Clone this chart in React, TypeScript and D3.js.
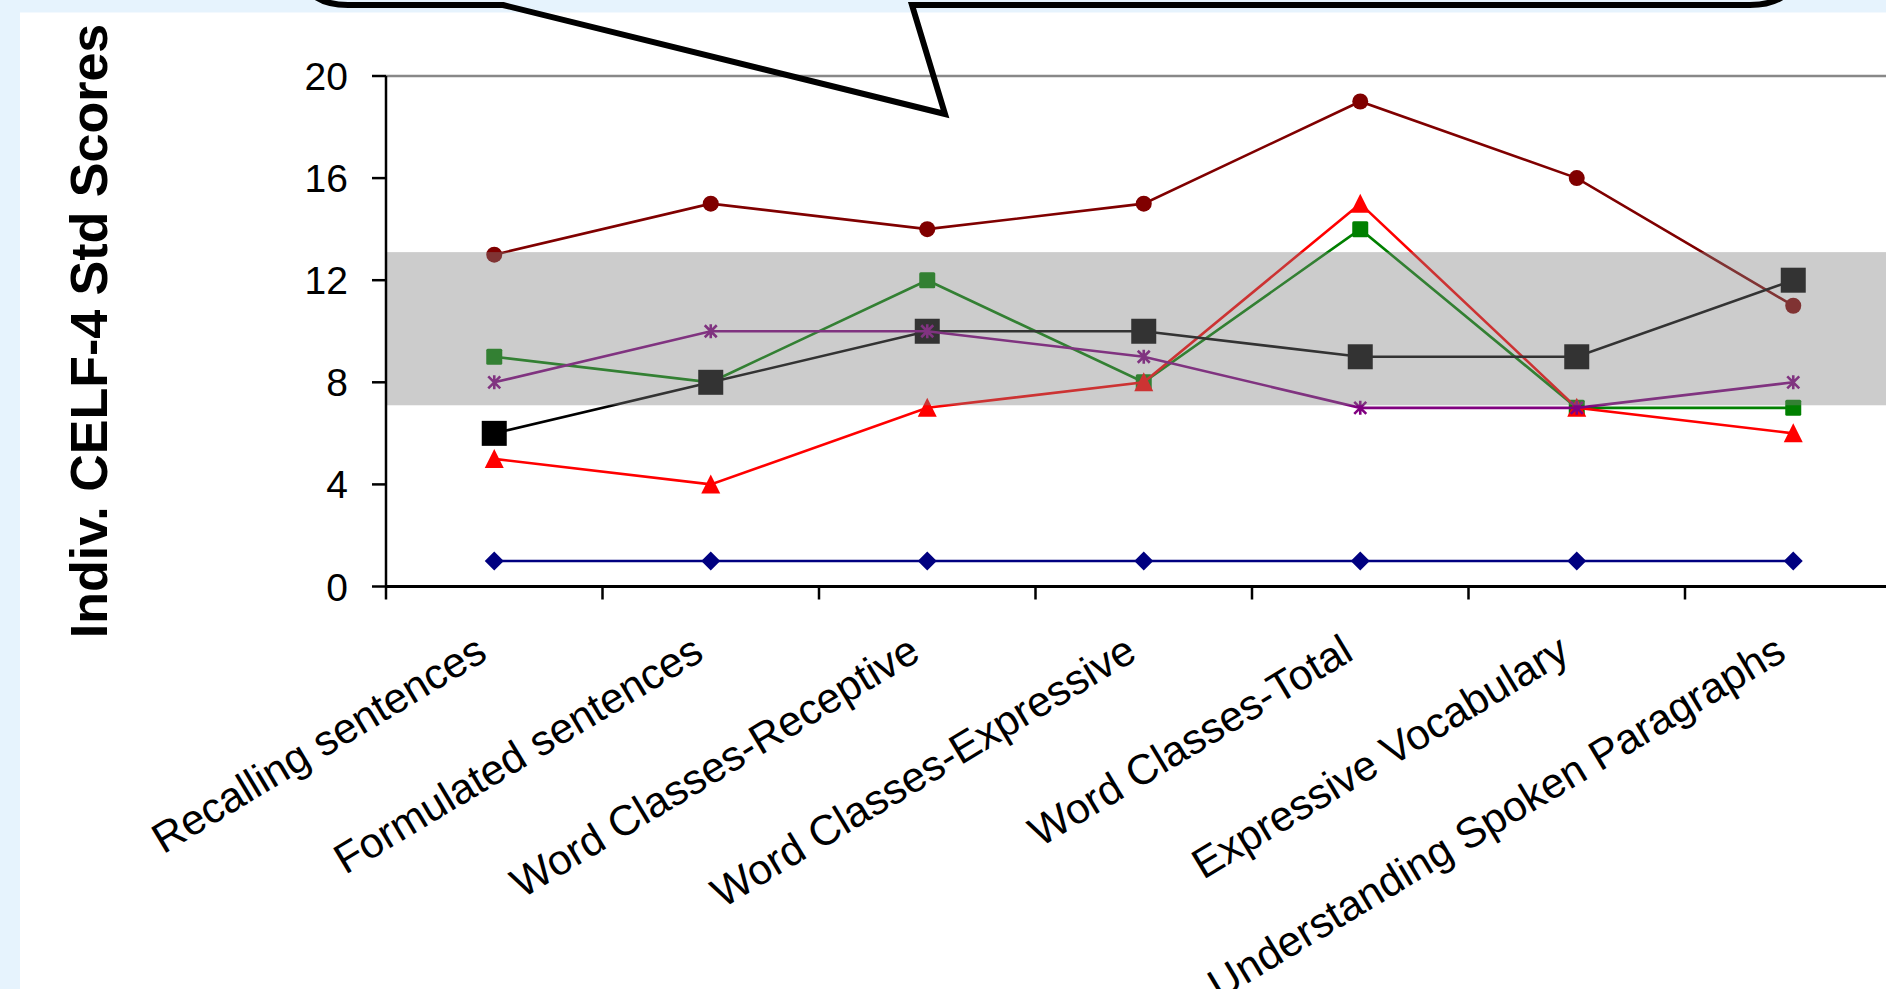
import React from "react";
import * as d3 from "d3";

const categories = [
  "Recalling sentences",
  "Formulated sentences",
  "Word Classes-Receptive",
  "Word Classes-Expressive",
  "Word Classes-Total",
  "Expressive Vocabulary",
  "Understanding Spoken Paragraphs",
];

const seriesNavy = [1, 1, 1, 1, 1, 1, 1];
const seriesDarkRed = [13, 15, 14, 15, 19, 16, 11];
const seriesGreen = [9, 8, 12, 8, 14, 7, 7];
const seriesRed = [5, 4, 7, 8, 15, 7, 6];
const seriesBlack = [6, 8, 10, 10, 9, 9, 12];
const seriesPurple = [8, 10, 10, 9, 7, 7, 8];

const yTicks = [0, 4, 8, 12, 16, 20];
const normalBand = [7.1, 13.1];

const W = 1886;
const H = 989;
const FONT = "'Liberation Sans', Arial, sans-serif";

type Marker = "diamond" | "circle" | "square" | "triangle" | "bigsquare" | "star";

const seriesList: { values: number[]; color: string; marker: Marker }[] = [
  { values: seriesNavy, color: "#000080", marker: "diamond" },
  { values: seriesDarkRed, color: "#800000", marker: "circle" },
  { values: seriesGreen, color: "#008000", marker: "square" },
  { values: seriesRed, color: "#FF0000", marker: "triangle" },
  { values: seriesBlack, color: "#000000", marker: "bigsquare" },
  { values: seriesPurple, color: "#800080", marker: "star" },
];

function MarkerShape({ type, x, y, color }: { type: Marker; x: number; y: number; color: string }) {
  switch (type) {
    case "diamond":
      return <path d={`M${x},${y - 9.5}L${x + 9.5},${y}L${x},${y + 9.5}L${x - 9.5},${y}Z`} fill={color} />;
    case "circle":
      return <circle cx={x} cy={y} r={8} fill={color} />;
    case "square":
      return <rect x={x - 8} y={y - 8} width={16} height={16} rx={1.5} fill={color} />;
    case "bigsquare":
      return <rect x={x - 12.5} y={y - 12.5} width={25} height={25} fill={color} />;
    case "triangle":
      return <path d={`M${x},${y - 10}L${x + 9.5},${y + 9}L${x - 9.5},${y + 9}Z`} fill={color} />;
    case "star":
      return (
        <path
          d={`M${x},${y - 7}L${x},${y + 7}M${x - 6},${y - 6}L${x + 6},${y + 6}M${x - 6},${y + 6}L${x + 6},${y - 6}`}
          stroke={color}
          strokeWidth={2.6}
          fill="none"
        />
      );
  }
}

export default function App() {
  const x = d3.scaleBand<string>().domain(categories).range([386, 386 + 7 * 216.5]).padding(0);
  const y = d3.scaleLinear().domain([0, 20]).range([586.5, 76]);
  const cx = (c: string) => (x(c) as number) + x.bandwidth() / 2;
  const line = d3
    .line<number>()
    .x((_, i) => cx(categories[i]))
    .y((d) => y(d));

  const xTickPos = [...categories.map((c) => x(c) as number), x.range()[1]];
  const x0 = x.range()[0];

  return (
    <div style={{ position: "absolute", left: 0, top: 0, width: W, height: H }}>
      <svg width={W} height={H} style={{ display: "block" }}>
        <rect x={0} y={0} width={W} height={H} fill="#E6F3FD" />
        <rect x={20} y={12.5} width={W - 20} height={H - 12.5} fill="#FFFFFF" />

        {/* series lines */}
        {seriesList.map((s, si) => (
          <g key={si}>
            <path d={line(s.values) || ""} fill="none" stroke={s.color} strokeWidth={2.6} />
            {s.values.map((v, i) => (
              <MarkerShape key={i} type={s.marker} x={cx(categories[i])} y={y(v)} color={s.color} />
            ))}
          </g>
        ))}

        {/* normal range band (translucent, drawn over series) */}
        <rect
          x={x0}
          y={y(normalBand[1])}
          width={W - x0}
          height={y(normalBand[0]) - y(normalBand[1])}
          fill="#7F7F7F"
          fillOpacity={0.4}
        />

        {/* top gridline */}
        <line x1={x0} x2={W} y1={y(20)} y2={y(20)} stroke="#888888" strokeWidth={2.5} />

        {/* y axis */}
        <line x1={x0} x2={x0} y1={y(20)} y2={y(0)} stroke="#000" strokeWidth={2.5} />
        {yTicks.map((t) => (
          <g key={t}>
            <line x1={x0 - 14} x2={x0} y1={y(t)} y2={y(t)} stroke="#000" strokeWidth={2.5} />
            <text
              x={348}
              y={y(t)}
              dy="0.36em"
              textAnchor="end"
              fontFamily={FONT}
              fontSize={39}
              fill="#000"
            >
              {t}
            </text>
          </g>
        ))}

        {/* x axis */}
        <line x1={x0} x2={W} y1={y(0)} y2={y(0)} stroke="#000" strokeWidth={3} />
        {xTickPos.map((p, i) => (
          <line key={i} x1={p} x2={p} y1={y(0)} y2={y(0) + 13} stroke="#000" strokeWidth={2.5} />
        ))}
        {categories.map((c) => (
          <text
            key={c}
            transform={`translate(${cx(c) - 5},${y(0) + 72}) rotate(-31)`}
            textAnchor="end"
            fontFamily={FONT}
            fontSize={42.5}
            fill="#000"
          >
            {c}
          </text>
        ))}

        {/* y axis title */}
        <text
          transform={`translate(107,331) rotate(-90)`}
          textAnchor="middle"
          fontFamily={FONT}
          fontWeight="bold"
          fontSize={52}
          fill="#000"
        >
          Indiv. CELF-4 Std Scores
        </text>

        {/* speech bubble callout */}
        <path
          d={`M503,5 L945,114 L912,5 L1750,5 Q1800,5 1800,-45 L1800,-200 L298,-200 L298,-45 Q298,5 348,5 Z`}
          fill="none"
          stroke="#000"
          strokeWidth={6}
          strokeLinejoin="miter"
        />
      </svg>
    </div>
  );
}
